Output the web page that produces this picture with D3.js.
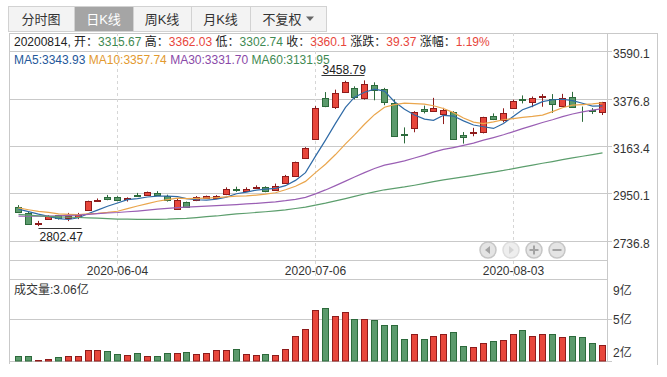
<!DOCTYPE html>
<html>
<head>
<meta charset="utf-8">
<script src="https://cdn.jsdelivr.net/npm/d3@7"></script>
<style>
  body { margin: 0; background: #fff; }
  svg text { font-family: "Liberation Sans", Arial, "Noto Sans CJK SC", sans-serif; font-size: 12px; fill: #333; }
</style>
</head>
<body>
<div id="chart"></div>
<script>
// 上证指数 daily candles, 2020-05-21 .. 2020-08-14
const dates = [
  '2020-05-21','2020-05-22','2020-05-25','2020-05-26','2020-05-27','2020-05-28','2020-05-29',
  '2020-06-01','2020-06-02','2020-06-03','2020-06-04','2020-06-05','2020-06-08','2020-06-09','2020-06-10',
  '2020-06-11','2020-06-12','2020-06-15','2020-06-16','2020-06-17','2020-06-18','2020-06-19','2020-06-22',
  '2020-06-23','2020-06-24','2020-06-29','2020-06-30',
  '2020-07-01','2020-07-02','2020-07-03','2020-07-06','2020-07-07','2020-07-08','2020-07-09','2020-07-10',
  '2020-07-13','2020-07-14','2020-07-15','2020-07-16','2020-07-17','2020-07-20','2020-07-21','2020-07-22',
  '2020-07-23','2020-07-24','2020-07-27','2020-07-28','2020-07-29','2020-07-30','2020-07-31',
  '2020-08-03','2020-08-04','2020-08-05','2020-08-06','2020-08-07','2020-08-10','2020-08-11','2020-08-12',
  '2020-08-13','2020-08-14'
];
const opens = [
  2890, 2862, 2812, 2833, 2851, 2841, 2842, 2876, 2916, 2932,
  2934, 2924, 2941, 2944, 2950, 2940, 2881, 2909, 2918, 2931,
  2930, 2946, 2968, 2961, 2975, 2977, 2965, 2995, 3030, 3111,
  3195, 3378, 3341, 3405, 3423, 3380, 3436, 3421, 3357, 3219,
  3244, 3331, 3320, 3307, 3316, 3212, 3224, 3225, 3300, 3280,
  3336, 3375, 3363, 3382, 3374, 3345, 3382, 3322, 3324, 3315.67
];
const highs = [
  2897, 2866, 2826, 2852, 2853, 2862, 2862, 2917, 2927, 2943,
  2937, 2932, 2952, 2958, 2960, 2944, 2925, 2913, 2938, 2940,
  2942, 2977, 2980, 2977, 2986, 2982, 2994, 3033, 3093, 3158,
  3343, 3406, 3417, 3457, 3432, 3458.79, 3450, 3425, 3373, 3247,
  3320, 3345, 3380, 3335, 3320, 3226, 3245, 3295, 3310, 3333,
  3372, 3391, 3386, 3397, 3397, 3398, 3407, 3341, 3334, 3362.03
];
const lows = [
  2866, 2810, 2802.47, 2831, 2832, 2825, 2834, 2873, 2912, 2919,
  2915, 2913, 2934, 2940, 2940, 2913, 2876, 2887, 2915, 2927,
  2926, 2942, 2957, 2957, 2972, 2955, 2962, 2993, 3024, 3106,
  3190, 3338, 3330, 3402, 3373, 3372, 3369, 3347, 3208, 3175,
  3225, 3310, 3317, 3262, 3191, 3174, 3207, 3220, 3280, 3270,
  3330, 3355, 3338, 3340, 3312, 3340, 3340, 3272, 3307, 3302.74
];
const closes = [
  2867.92, 2813.77, 2817.97, 2846.55, 2836.80, 2846.22, 2852.35, 2915.43, 2921.40, 2923.37,
  2919.25, 2930.80, 2937.77, 2956.11, 2943.32, 2920.90, 2919.74, 2890.03, 2931.75, 2936.77,
  2939.32, 2967.63, 2965.27, 2970.62, 2979.55, 2961.52, 2984.67, 3025.98, 3090.57, 3152.81,
  3332.88, 3345.34, 3403.44, 3450.59, 3383.32, 3443.29, 3414.62, 3361.30, 3210.10, 3214.13,
  3314.15, 3320.90, 3333.16, 3325.11, 3196.77, 3205.23, 3227.96, 3294.55, 3286.82, 3310.01,
  3367.97, 3371.69, 3377.56, 3386.46, 3354.04, 3379.25, 3340.29, 3319.27, 3320.73, 3360.10
];
// volume, 亿
const volumes = [
  2.15, 2.15, 1.78, 1.87, 2.06, 2.15, 2.15, 2.63, 2.63, 2.55,
  2.29, 2.21, 2.38, 2.15, 2.15, 2.38, 2.38, 2.46, 2.29, 2.38,
  2.63, 2.63, 2.72, 2.29, 2.21, 2.29, 2.21, 2.72, 3.83, 4.45,
  6.13, 6.30, 5.62, 5.96, 5.37, 5.37, 5.28, 4.77, 4.77, 3.57,
  4.08, 3.57, 3.83, 4.00, 4.17, 2.97, 2.89, 3.23, 3.40, 3.49,
  4.00, 4.34, 3.83, 4.08, 4.00, 3.74, 3.91, 3.74, 3.23, 3.06
];
// closes of the 59 sessions before 2020-05-21 (needed for the moving averages)
const priorCloses = [
  3031.23, 3013.05, 2987.93, 2991.33, 2880.30,
  2970.93, 2992.90, 3011.67, 3071.68, 3034.51, 2943.29, 2996.76, 2968.52, 2923.49, 2887.43,
  2789.25, 2779.64, 2728.76, 2702.13, 2745.62, 2660.17, 2722.44, 2781.59, 2764.91, 2772.20,
  2747.21, 2750.30,
  2734.52, 2780.64, 2763.99, 2820.76, 2815.37, 2825.90, 2796.63, 2783.05, 2827.28, 2811.17,
  2819.94, 2838.49, 2852.55, 2827.01, 2843.98, 2838.50, 2808.53, 2815.49, 2810.02, 2822.44,
  2860.08,
  2878.14, 2871.52, 2895.34, 2894.80, 2891.56, 2898.05, 2870.34, 2868.46, 2875.42, 2898.58,
  2883.74
];
const priceTicks = [3590.1, 3376.8, 3163.4, 2950.1, 2736.8];
const dateTicks = ['2020-06-04', '2020-07-06', '2020-08-03'];
const volDomain = [1.72, 8.72];
const tabLabels = ['分时图', '日K线', '周K线', '月K线', '不复权'];
const maPeriods = [5, 10, 30, 60];

const W = 667, H = 377;
const left = 10, plotRight = 608, axisRight = 658;
const frameTop = 33, priceBottom = 260.5, volTop = 279.5, volBottom = 361;

const red = '#e8463b', redDark = '#8e1b1b';
const green = '#5b9a6c', greenDark = '#2c6a3b';
const maColors = ['#2f6aa6', '#eaa64d', '#9a5fb4', '#5c9e6d'];
const maTextColors = ['#24589a', '#e39a2f', '#8a49a8', '#3f8a52'];
const gridColor = '#c9c9c9';

const svg = d3.select('#chart').append('svg')
  .attr('width', W).attr('height', H);

const n = dates.length;
const x = d3.scaleBand().domain(d3.range(n)).range([14, 607]).paddingInner(0.28).paddingOuter(0.14);
const cx = i => Math.round(x(i)) + 3.5;
const y = d3.scaleLinear().domain([2736.8, 3590.1]).range([240.7, 51.2]);
const yVol = d3.scaleLinear().domain(volDomain).range([volBottom, volTop]);

// moving averages
const allCloses = priorCloses.concat(closes);
const off = priorCloses.length;
const ma = p => closes.map((c, i) => d3.mean(allCloses.slice(off + i - p + 1, off + i + 1)));
const maSeries = maPeriods.map(ma);

// ---- tabs
const tabW = [66, 59, 58, 59, 76];
let tx = 8;
tabLabels.forEach((t, i) => {
  const g = svg.append('g');
  g.append('rect').attr('x', tx + 0.5).attr('y', 6.5).attr('width', tabW[i]).attr('height', 25)
    .attr('fill', i === 1 ? '#a5a5a5' : '#f3f3f3').attr('stroke', '#d2d2d2');
  const cxTab = i === 4 ? tx + tabW[i] / 2 - 6 : tx + tabW[i] / 2;
  g.append('text').attr('x', cxTab).attr('y', 23.5).attr('text-anchor', 'middle')
    .style('font-size', '13px').style('fill', i === 1 ? '#fff' : '#333').text(t);
  if (i === 4) {
    g.append('path').attr('d', `M${tx + 56},16.5 h8 l-4,4.5 z`).attr('fill', '#666');
  }
  tx += tabW[i];
});

// ---- frame
const hline = (y0, x1, x2) => svg.append('line').attr('x1', x1).attr('x2', x2)
  .attr('y1', y0).attr('y2', y0).attr('stroke', gridColor);
hline(frameTop + 0.5, left, axisRight);
svg.append('line').attr('x1', left - 0.5).attr('x2', left - 0.5).attr('y1', frameTop).attr('y2', 364).attr('stroke', gridColor);
svg.append('line').attr('x1', plotRight - 0.5).attr('x2', plotRight - 0.5).attr('y1', frameTop).attr('y2', volBottom).attr('stroke', gridColor);
svg.append('line').attr('x1', axisRight - 0.5).attr('x2', axisRight - 0.5).attr('y1', frameTop).attr('y2', 365).attr('stroke', gridColor);

// price grid + labels
priceTicks.forEach(t => {
  const yy = Math.round(y(t)) + 0.5;
  hline(yy, left, 612);
  svg.append('text').attr('x', 613).attr('y', yy + 6).text(t.toFixed(1));
});
hline(priceBottom, left, plotRight);
hline(volTop, left, plotRight);

// date ticks (dashed)
dateTicks.forEach(d => {
  const xx = cx(dates.indexOf(d));
  svg.append('line').attr('x1', xx).attr('x2', xx).attr('y1', frameTop).attr('y2', volTop)
    .attr('stroke', '#d6d6d6').attr('stroke-dasharray', '3,3');
  svg.append('text').attr('x', xx).attr('y', 275).attr('text-anchor', 'middle').text(d);
});

// volume grid + labels
const vMid = (volDomain[0] + volDomain[1]) / 2;
hline(Math.round(yVol(vMid)) - 0.5, left, 612);
hline(volBottom + 0.5, left, 612);
[[volDomain[1], volTop + 15], [vMid, yVol(vMid) + 4], [volDomain[0], volBottom - 4]].forEach(([v, yy]) => {
  svg.append('text').attr('x', 613).attr('y', yy).text(Math.round(v) + '亿');
});

// ---- volume bars
svg.append('g').selectAll('rect').data(volumes).join('rect')
  .attr('x', (d, i) => Math.round(x(i)) + 0.5)
  .attr('width', 6)
  .attr('y', d => Math.round(yVol(d)) + 0.5)
  .attr('height', d => Math.max(0, volBottom - Math.round(yVol(d)) - 0.5))
  .attr('fill', (d, i) => closes[i] >= opens[i] ? red : green)
  .attr('stroke', (d, i) => closes[i] >= opens[i] ? redDark : greenDark);

// ---- candles
const candles = svg.append('g').selectAll('g').data(d3.range(n)).join('g');
candles.append('line')
  .attr('x1', cx).attr('x2', cx)
  .attr('y1', i => y(highs[i])).attr('y2', i => y(lows[i]))
  .attr('stroke', i => closes[i] >= opens[i] ? redDark : greenDark);
candles.append('rect')
  .attr('x', i => Math.round(x(i)) + 0.5)
  .attr('width', 6)
  .attr('y', i => Math.round(y(Math.max(opens[i], closes[i]))) + 0.5)
  .attr('height', i => Math.max(0, Math.round(y(Math.min(opens[i], closes[i]))) - Math.round(y(Math.max(opens[i], closes[i])))))
  .attr('fill', i => closes[i] >= opens[i] ? red : green)
  .attr('stroke', i => closes[i] >= opens[i] ? redDark : greenDark);

// ---- moving average lines
const line = d3.line().x((d, i) => cx(i)).y(d => y(d));
maSeries.forEach((s, k) => {
  svg.append('path').datum(s).attr('d', line)
    .attr('fill', 'none').attr('stroke', maColors[k]).attr('stroke-width', 1.2);
});

// ---- high / low markers
const hiIdx = d3.maxIndex(highs), loIdx = d3.minIndex(lows);
const hiX = cx(hiIdx), hiY = Math.round(y(highs[hiIdx])) - 4.5;
svg.append('line').attr('x1', hiX - 43).attr('x2', hiX).attr('y1', hiY).attr('y2', hiY).attr('stroke', '#333');
svg.append('text').attr('x', hiX - 42).attr('y', hiY - 2).style('fill', '#222').text(highs[hiIdx].toFixed(2));
const loX = cx(loIdx), loY = Math.round(y(lows[loIdx])) + 2.5;
svg.append('line').attr('x1', loX).attr('x2', loX + 43).attr('y1', loY).attr('y2', loY).attr('stroke', '#333');
svg.append('text').attr('x', loX + 1).attr('y', loY + 12).style('fill', '#222').text(lows[loIdx].toFixed(2));

// ---- info rows
const last = n - 1, prev = closes[last - 1];
const col = v => v >= prev ? red : '#3f8a52';
const fmt = v => String(+v.toFixed(2));
const chg = closes[last] - prev;
const info = svg.append('text').attr('x', 14).attr('y', 46);
[
  [dates[last].replace(/-/g, '') + ', 开：', '#222'], [fmt(opens[last]), col(opens[last])],
  [' 高：', '#222'], [fmt(highs[last]), col(highs[last])],
  [' 低：', '#222'], [fmt(lows[last]), col(lows[last])],
  [' 收：', '#222'], [fmt(closes[last]), col(closes[last])],
  [' 涨跌：', '#222'], [chg.toFixed(2), col(closes[last])],
  [' 涨幅：', '#222'], [(chg / prev * 100).toFixed(2) + '%', col(closes[last])]
].forEach(([t, c]) => info.append('tspan').style('fill', c).text(t));

const maText = svg.append('text').attr('x', 14).attr('y', 64);
maPeriods.forEach((p, k) => {
  maText.append('tspan').style('fill', maTextColors[k])
    .text((k ? ' ' : '') + 'MA' + p + ':' + maSeries[k][last].toFixed(2));
});

svg.append('text').attr('x', 14).attr('y', 294).text('成交量:' + volumes[last].toFixed(2) + '亿');

// ---- navigation buttons
const navX = d3.scalePoint().domain(['prev', 'next', 'in', 'out']).range([488, 557]);
['prev', 'next', 'in', 'out'].forEach(b => {
  const bx = navX(b), by = 250, ic = b === 'next' ? '#d4d4d4' : '#a3a3a3';
  svg.append('circle').attr('cx', bx).attr('cy', by).attr('r', 8)
    .attr('fill', b === 'next' ? '#eeeeee' : '#e4e4e4').attr('stroke', b === 'next' ? '#dddddd' : '#c6c6c6').attr('stroke-width', 1.5);
  if (b === 'prev') svg.append('path').attr('d', `M${bx - 3},${by} l5,-4 v8 z`).attr('fill', ic);
  if (b === 'next') svg.append('path').attr('d', `M${bx + 3},${by} l-5,-4 v8 z`).attr('fill', ic);
  if (b === 'in' || b === 'out') {
    svg.append('rect').attr('x', bx - 4.5).attr('y', by - 1).attr('width', 9).attr('height', 2).attr('fill', ic);
  }
  if (b === 'in') svg.append('rect').attr('x', bx - 1).attr('y', by - 4.5).attr('width', 2).attr('height', 9).attr('fill', ic);
});
</script>
</body>
</html>
